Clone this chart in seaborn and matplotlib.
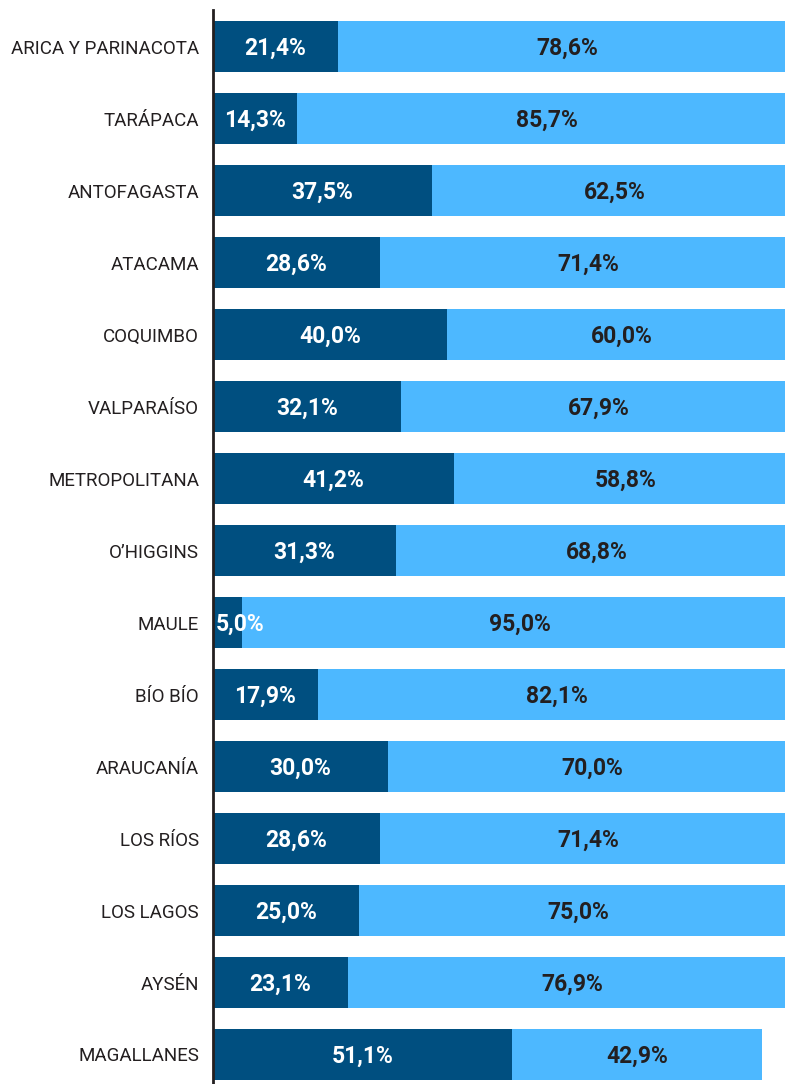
import pandas as pd
import matplotlib
matplotlib.use("Agg")
import matplotlib.pyplot as plt
import seaborn as sns

# --- data ---
regions = ["ARICA Y PARINACOTA", "TARÁPACA", "ANTOFAGASTA", "ATACAMA", "COQUIMBO",
           "VALPARAÍSO", "METROPOLITANA", "O’HIGGINS", "MAULE", "BÍO BÍO",
           "ARAUCANÍA", "LOS RÍOS", "LOS LAGOS", "AYSÉN", "MAGALLANES"]
dark_pct = [21.4, 14.3, 37.5, 28.6, 40.0, 32.1, 41.2, 31.3, 5.0, 17.9,
            30.0, 28.6, 25.0, 23.1, 51.1]
light_pct = [78.6, 85.7, 62.5, 71.4, 60.0, 67.9, 58.8, 68.8, 95.0, 82.1,
             70.0, 71.4, 75.0, 76.9, 42.9]

DARK = "#004F80"
LIGHT = "#4DB8FF"
TXT = "#231F20"

df = pd.DataFrame({"region": regions, "dark": dark_pct, "light": light_pct})
df["total"] = df["dark"] + df["light"]

sns.set_style("white")
plt.rcParams["font.family"] = ["Roboto", "DejaVu Sans"]

fig = plt.figure(figsize=(7.85, 10.84), dpi=100)
ax = fig.add_axes([213 / 785, 0.0, 1 - 213 / 785, 1074 / 1084])

# light bar = full stack, dark bar drawn over it
sns.barplot(data=df, x="total", y="region", color=LIGHT, width=0.71,
            saturation=1, linewidth=0, ax=ax, orient="h")
sns.barplot(data=df, x="dark", y="region", color=DARK, width=0.71,
            saturation=1, linewidth=0, ax=ax, orient="h")

# value labels
for i, (d, l) in enumerate(zip(dark_pct, light_pct)):
    txt_d = f"{d:.1f}%".replace(".", ",")
    if d < 8:
        ax.text(0.4, i + 0.02, txt_d, ha="left", va="center", color="white",
                fontsize=16.5, fontweight="bold")
    else:
        ax.text(d / 2, i + 0.02, txt_d, ha="center", va="center", color="white",
                fontsize=16.5, fontweight="bold")
    ax.text(d + l / 2, i + 0.02, f"{l:.1f}%".replace(".", ","), ha="center",
            va="center", color=TXT, fontsize=16.5, fontweight="bold")

ax.set_xlim(0, 97.9)
ax.set_ylim(14.41, -0.51)
ax.set_xlabel("")
ax.set_ylabel("")
ax.set_xticks([])
ax.tick_params(axis="y", length=0, pad=10, labelsize=13.5, labelcolor=TXT)
for s in ["top", "right", "bottom"]:
    ax.spines[s].set_visible(False)
ax.spines["left"].set_color(TXT)
ax.spines["left"].set_linewidth(2)

fig.savefig("out.png", dpi=100)
